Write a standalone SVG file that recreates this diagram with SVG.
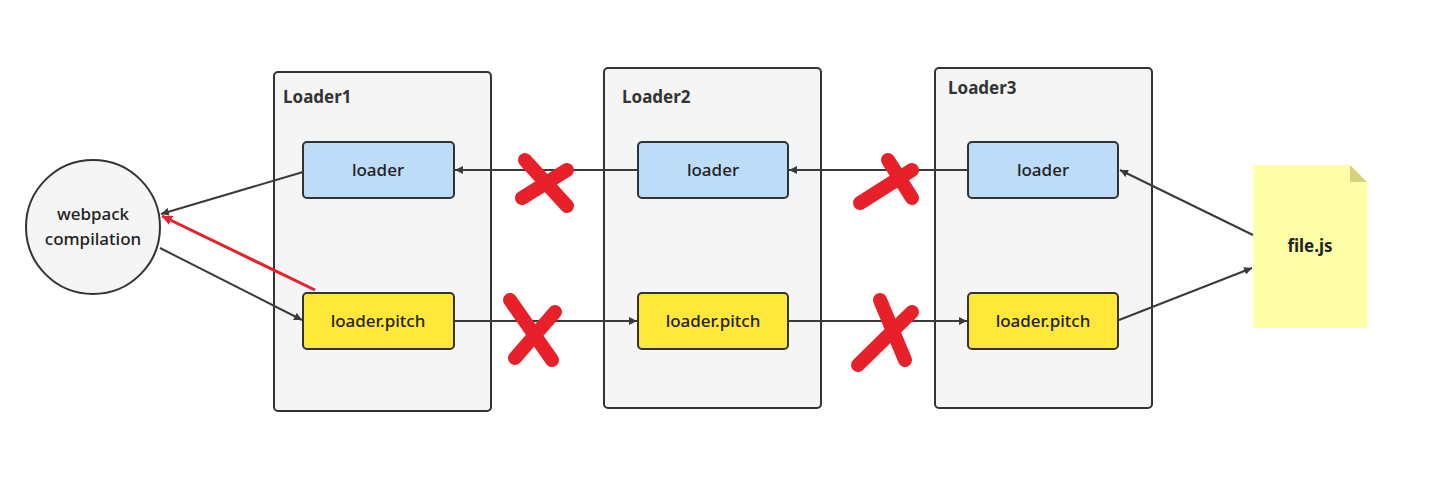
<svg xmlns="http://www.w3.org/2000/svg" width="1438" height="483" viewBox="0 0 1438 483">
<style>
.cont{fill:#f5f5f5;stroke:#333;stroke-width:2}
.ld{fill:#bcdcf8;stroke:#333;stroke-width:2}
.pt{fill:#ffe83a;stroke:#333;stroke-width:2}
.t{font-family:"Noto Sans",sans-serif;font-size:17px;font-weight:500;fill:#222;text-anchor:middle}
.h{font-family:"Noto Sans",sans-serif;font-size:17px;font-weight:bold;fill:#333}
.e{stroke:#3a3a3a;stroke-width:2;fill:none;marker-end:url(#a)}
.x{stroke:#e8202a;stroke-width:14;stroke-linecap:round;fill:none}
</style>
<defs>
<marker id="a" viewBox="0 0 10 10" refX="10" refY="5" markerWidth="8" markerHeight="8" markerUnits="userSpaceOnUse" orient="auto"><path d="M0,0L10,5L0,10z" fill="#3a3a3a"/></marker>
<marker id="r" viewBox="0 0 10 10" refX="10" refY="5" markerWidth="10" markerHeight="10" markerUnits="userSpaceOnUse" orient="auto"><path d="M0,0L10,5L0,10z" fill="#e8202a"/></marker>
</defs>
<rect width="1438" height="483" fill="#fff"/>
<g id="loader1"><rect class="cont" x="274" y="72" width="217" height="339" rx="4"/><text class="h" x="283" y="103">Loader1</text></g>
<g id="loader2"><rect class="cont" x="604" y="68" width="217" height="340" rx="4"/><text class="h" x="622" y="103">Loader2</text></g>
<g id="loader3"><rect class="cont" x="935" y="68" width="217" height="340" rx="4"/><text class="h" x="948" y="94">Loader3</text></g>
<g id="l1"><rect class="ld" x="303" y="142" width="151" height="56" rx="4"/><text class="t" x="378" y="176">loader</text></g>
<g id="p1"><rect class="pt" x="303" y="293" width="151" height="56" rx="4"/><text class="t" x="378" y="327">loader.pitch</text></g>
<g id="l2"><rect class="ld" x="638" y="142" width="150" height="56" rx="4"/><text class="t" x="713" y="176">loader</text></g>
<g id="p2"><rect class="pt" x="638" y="293" width="150" height="56" rx="4"/><text class="t" x="713" y="327">loader.pitch</text></g>
<g id="l3"><rect class="ld" x="968" y="142" width="150" height="56" rx="4"/><text class="t" x="1043" y="176">loader</text></g>
<g id="p3"><rect class="pt" x="968" y="293" width="150" height="56" rx="4"/><text class="t" x="1043" y="327">loader.pitch</text></g>
<g id="webpack"><ellipse cx="93" cy="227" rx="67" ry="67" fill="#f5f5f5" stroke="#333" stroke-width="2"/><text class="t" x="93" y="220">webpack</text><text class="t" x="93" y="245">compilation</text></g>
<g id="file"><path d="M1253,165H1350L1367,182V328H1253z" fill="#ffffa8"/><path d="M1350,165L1367,182H1350z" fill="#d6d37a"/><text class="t" x="1310" y="252" style="font-weight:bold">file.js</text></g>
<g id="connectors">
<path class="e" d="M303,172L161,214"/>
<path d="M315,290L162,216" stroke="#e8202a" stroke-width="3" fill="none" marker-end="url(#r)"/>
<path class="e" d="M160,248L302,320"/>
<path class="e" d="M638,170L455,170"/>
<path class="e" d="M968,170L789,170"/>
<path class="e" d="M454,321L637,321"/>
<path class="e" d="M788,321L967,321"/>
<path class="e" d="M1253,235L1120,170"/>
<path class="e" d="M1119,320L1252,268"/>
</g>
<g id="marks">
<path class="x" d="M525,160L567,206M567,170L522,198"/>
<path class="x" d="M510,300L552,360M555,312L515,358"/>
<path class="x" d="M888,160L912,198M912,170L860,203"/>
<path class="x" d="M880,300L905,360M912,312L858,365"/>
</g>
</svg>
